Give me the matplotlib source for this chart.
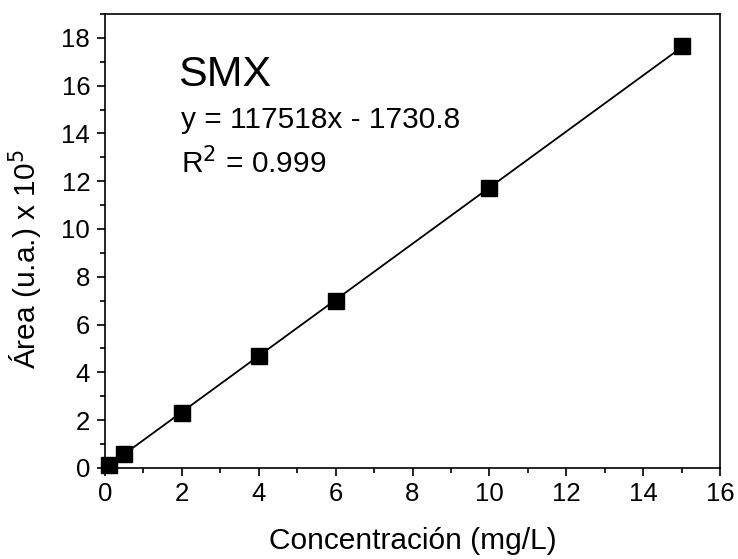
import numpy as np
import matplotlib
matplotlib.use("Agg")
import matplotlib.pyplot as plt
from matplotlib.ticker import MultipleLocator

plt.rcParams["font.family"] = ["Liberation Sans", "DejaVu Sans"]

conc = [0.1, 0.5, 2, 4, 6, 10, 15]
area = [0.1, 0.6, 2.3, 4.7, 7.0, 11.7, 17.65]
slope = 117518 / 1e5
intercept = -1730.8 / 1e5

fig = plt.figure(figsize=(7.38, 5.59), dpi=100)
ax = fig.add_axes([0.142, 0.163, 0.834, 0.812])

xfit = np.array([conc[0], conc[-1]])
ax.plot(xfit, slope * xfit + intercept, color="black", lw=1.3, zorder=2)
ax.plot(conc, area, "s", color="black", ms=11.5, zorder=3, clip_on=False)

ax.set_xlim(0, 16)
ax.set_ylim(0, 19)
ax.xaxis.set_major_locator(MultipleLocator(2))
ax.xaxis.set_minor_locator(MultipleLocator(1))
ax.yaxis.set_major_locator(MultipleLocator(2))
ax.yaxis.set_minor_locator(MultipleLocator(1))
ax.tick_params(which="major", direction="out", length=6, width=1.2,
               labelsize=18.5, pad=4.5)
ax.tick_params(which="minor", direction="out", length=3.5, width=1.2)
for s in ax.spines.values():
    s.set_linewidth(1.2)

ax.set_xlabel("Concentración (mg/L)", fontsize=21.5, labelpad=15)
ax.set_ylabel("Área (u.a.) x 10$^5$", fontsize=21.5)
ax.yaxis.set_label_coords(-0.097, 0.46)

ax.text(1.9, 16.0, "SMX", fontsize=31)
ax.text(1.98, 14.23, "y = 117518x - 1730.8", fontsize=21.5)
ax.text(1.98, 12.34, "R$^2$ = 0.999", fontsize=21.5)

fig.savefig("out.png", dpi=100)
